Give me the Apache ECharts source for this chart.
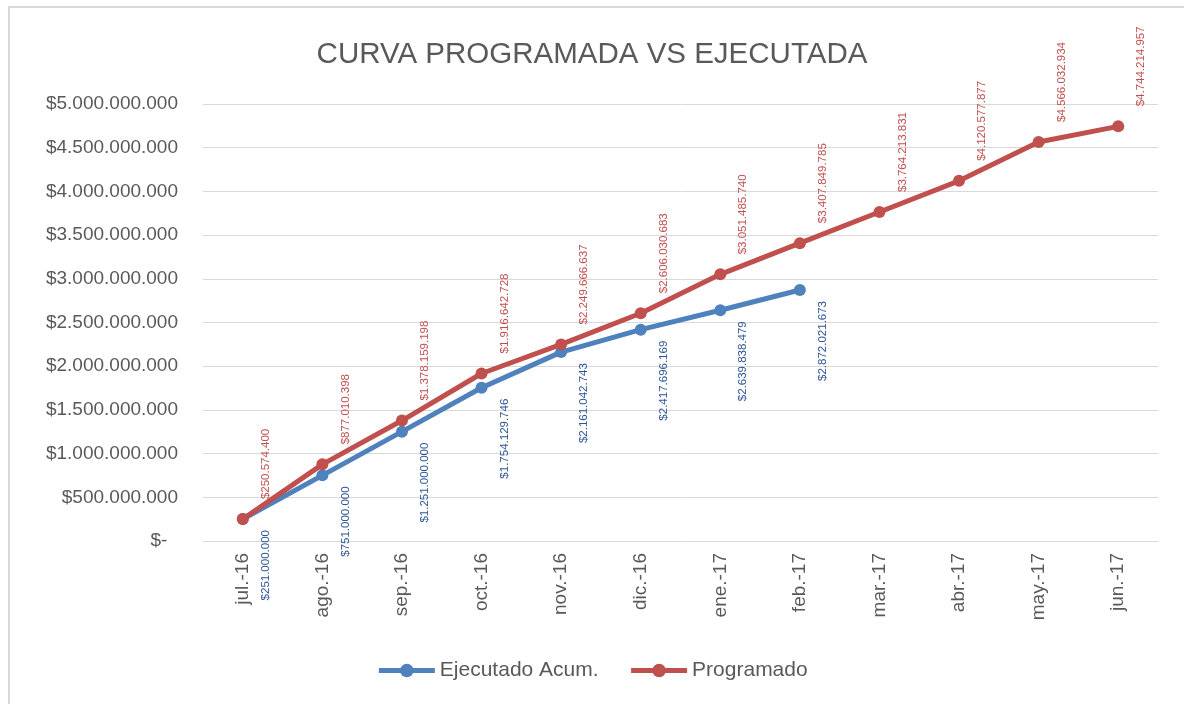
<!DOCTYPE html>
<html>
<head>
<meta charset="utf-8">
<script src="https://cdn.jsdelivr.net/npm/echarts@6/dist/echarts.min.js"></script>
<style>
  html, body { margin: 0; padding: 0; background: #fff; }
  #chart { width: 1184px; height: 704px; }
</style>
</head>
<body>
<div id="chart"></div>
<script>
// meses
var categorias = ['jul.-16', 'ago.-16', 'sep.-16', 'oct.-16', 'nov.-16', 'dic.-16',
  'ene.-17', 'feb.-17', 'mar.-17', 'abr.-17', 'may.-17', 'jun.-17'];
var ejecutado = [251000000, 751000000, 1251000000, 1754129746, 2161042743,
  2417696169, 2639838479, 2872021673];
var programado = [250574400, 877010398, 1378159198, 1916642728, 2249666637,
  2606030683, 3051485740, 3407849785, 3764213831, 4120577877, 4566032934, 4744214957];

function pesos(v) {
  return '$' + String(Math.round(v)).replace(/\B(?=(\d{3})+(?!\d))/g, '.');
}

var chart = echarts.init(document.getElementById('chart'));
var option = {
  animation: false,
  textStyle: { fontFamily: 'Liberation Sans' },
  graphic: [{
    type: 'rect',
    shape: { x: 9, y: 7, width: 1190, height: 710 },
    style: { fill: 'none', stroke: '#d9d9d9', lineWidth: 2 },
    silent: true
  }],
  title: {
    text: 'CURVA PROGRAMADA VS EJECUTADA',
    left: 'center',
    top: 35,
    textStyle: { fontSize: 29.5, fontWeight: 'normal', color: '#595959' }
  },
  legend: {
    data: ['Ejecutado Acum.', 'Programado'],
    bottom: 18,
    left: 'center',
    itemWidth: 56,
    itemHeight: 17,
    itemGap: 30,
    lineStyle: { width: 5 },
    textStyle: { fontSize: 21, color: '#595959' }
  },
  grid: { left: 203, right: 26, top: 104, bottom: 163 },
  xAxis: {
    type: 'category',
    data: categorias,
    boundaryGap: true,
    axisLine: { lineStyle: { color: '#d9d9d9' } },
    axisTick: { show: false },
    axisLabel: { rotate: 90, fontSize: 19, color: '#595959', margin: 12, interval: 0 }
  },
  yAxis: {
    type: 'value',
    min: 0,
    max: 5000000000,
    interval: 500000000,
    axisLine: { show: false },
    axisTick: { show: false },
    splitLine: { lineStyle: { color: '#d9d9d9' } },
    axisLabel: {
      fontSize: 19,
      color: '#595959',
      margin: 25,
      formatter: function (v) { return v === 0 ? '$-  ' : pesos(v); }
    }
  },
  series: [{
    name: 'Ejecutado Acum.',
    type: 'line',
    data: ejecutado,
    symbol: 'circle',
    symbolSize: 12,
    lineStyle: { width: 5, color: '#4f81bd' },
    itemStyle: { color: '#4f81bd' },
    label: {
      show: true,
      position: 'inside',
      rotate: 90,
      align: 'right',
      verticalAlign: 'middle',
      offset: [-11, 23],
      fontSize: 11.5,
      color: '#2c5597',
      formatter: function (p) { return pesos(p.value); }
    }
  }, {
    name: 'Programado',
    type: 'line',
    data: programado,
    symbol: 'circle',
    symbolSize: 12,
    lineStyle: { width: 5, color: '#c0504d' },
    itemStyle: { color: '#c0504d' },
    label: {
      show: true,
      position: 'inside',
      rotate: 90,
      align: 'left',
      verticalAlign: 'middle',
      offset: [20, 23],
      fontSize: 11.5,
      color: '#c0504d',
      formatter: function (p) { return pesos(p.value); }
    }
  }]
};
chart.setOption(option);
</script>
</body>
</html>
